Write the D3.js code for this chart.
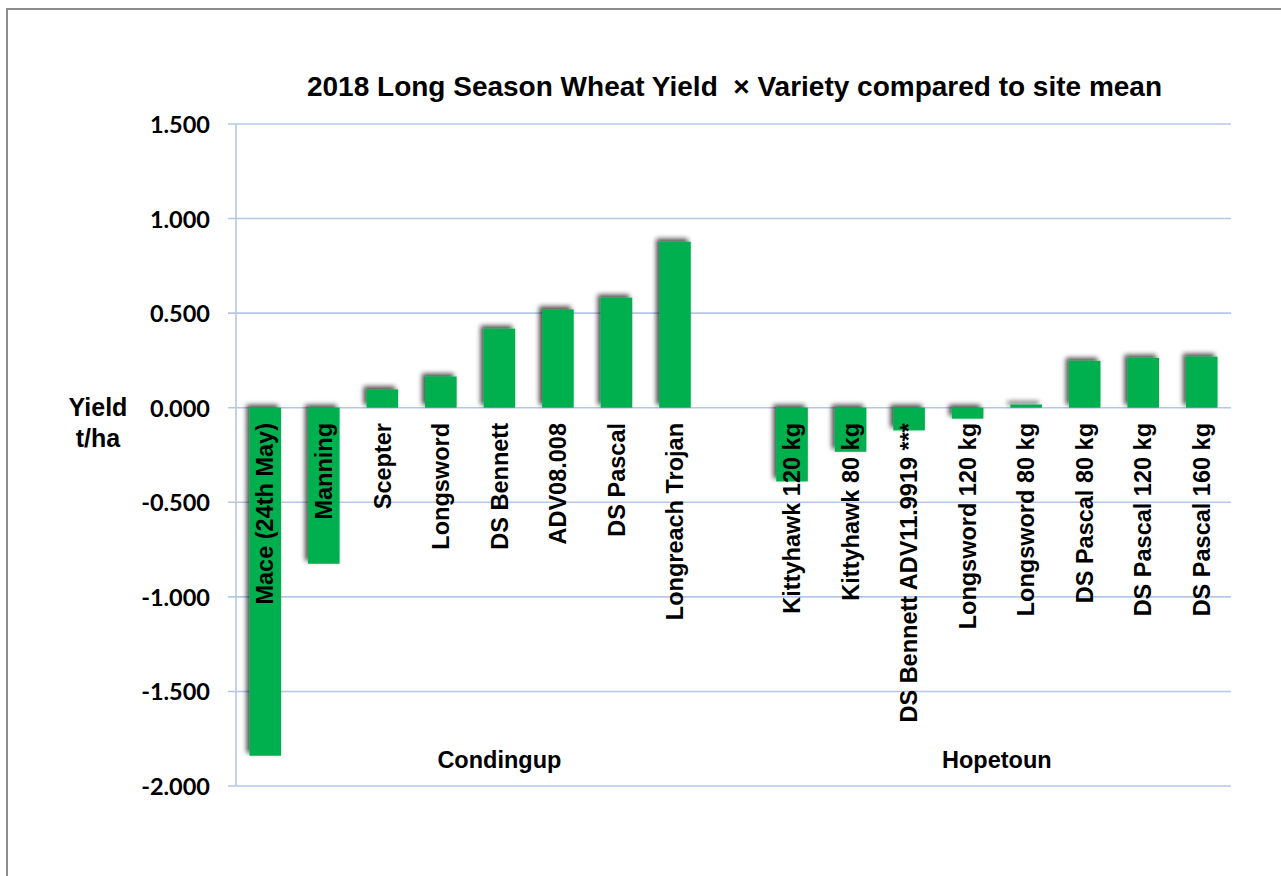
<!DOCTYPE html>
<html>
<head>
<meta charset="utf-8">
<script src="https://cdn.jsdelivr.net/npm/d3@7"></script>
<style>
  html, body { margin: 0; padding: 0; background: #fff; }
  svg { display: block; }
</style>
</head>
<body>
<svg id="chart" width="1281" height="876"></svg>
<script>
// ---- Data ----
const groups = ["Condingup", "Hopetoun"];
const categories = [
  "Mace (24th May)", "Manning", "Scepter", "Longsword", "DS Bennett", "ADV08.008", "DS Pascal", "Longreach Trojan", "",
  "Kittyhawk 120 kg", "Kittyhawk 80 kg", "DS Bennett ADV11.9919 ***", "Longsword 120 kg", "Longsword 80 kg",
  "DS Pascal 80 kg", "DS Pascal 120 kg", "DS Pascal 160 kg"
];
const categoryGroup = [0,0,0,0,0,0,0,0,0, 1,1,1,1,1,1,1,1];
const values = [
  -1.84, -0.825, 0.097, 0.165, 0.418, 0.52, 0.582, 0.878, null,
  -0.39, -0.233, -0.12, -0.058, 0.017, 0.248, 0.264, 0.27
];
const yTicks = [1.5, 1.0, 0.5, 0.0, -0.5, -1.0, -1.5, -2.0];
const title = "2018 Long Season Wheat Yield  \u00d7 Variety compared to site mean";
const yTitle = ["Yield", "t/ha"];

// ---- Layout ----
const svg = d3.select("#chart");
const plot = { left: 236, right: 1231, top: 124, bottom: 786 };

svg.append("rect").attr("x", 7).attr("y", 9).attr("width", 1300).attr("height", 900)
  .attr("fill", "#fff").attr("stroke", "#8c8c8c").attr("stroke-width", 2);

const defs = svg.append("defs");
const f = defs.append("filter").attr("id", "shadow").attr("x", "-50%").attr("y", "-50%").attr("width", "200%").attr("height", "200%");
f.append("feGaussianBlur").attr("in", "SourceAlpha").attr("stdDeviation", 2.5).attr("result", "b");
f.append("feOffset").attr("in", "b").attr("dx", -3).attr("dy", -3).attr("result", "o");
f.append("feComponentTransfer").attr("in", "o").attr("result", "s")
  .append("feFuncA").attr("type", "linear").attr("slope", 0.7);
const m = f.append("feMerge");
m.append("feMergeNode").attr("in", "s");
m.append("feMergeNode").attr("in", "SourceGraphic");

const x = d3.scaleBand().domain(d3.range(categories.length)).range([plot.left, plot.right]).paddingInner(0.46).paddingOuter(0.23);
const y = d3.scaleLinear().domain([-2, 1.5]).range([plot.bottom, plot.top]);

// gridlines
const gridColor = "#b4c7e7";
svg.append("g").selectAll("line").data(yTicks).join("line")
  .attr("x1", plot.left - 8).attr("x2", plot.right)
  .attr("y1", d => y(d)).attr("y2", d => y(d))
  .attr("stroke", gridColor).attr("stroke-width", 1.6);

// vertical axis line
svg.append("line").attr("x1", plot.left).attr("x2", plot.left)
  .attr("y1", plot.top).attr("y2", plot.bottom)
  .attr("stroke", gridColor).attr("stroke-width", 1.6);

// y tick labels via axis
const fmt = d3.format(".3f");
const yAxis = d3.axisLeft(y).tickValues(yTicks).tickFormat(d => fmt(d).replace("\u2212", "-")).tickSize(0).tickPadding(0);
const ya = svg.append("g").attr("transform", `translate(210,0)`).call(yAxis);
ya.select(".domain").remove();
ya.selectAll("text").attr("font-family", "Lato, 'Open Sans', sans-serif").attr("font-weight", "bold")
  .attr("font-size", "23.5px").attr("fill", "#000").attr("dy", "0.36em");

// bars
svg.append("g").attr("filter", "url(#shadow)").selectAll("rect")
  .data(values.map((v, i) => ({ v, i })).filter(d => d.v !== null)).join("rect")
  .attr("x", d => x(d.i)).attr("width", x.bandwidth())
  .attr("y", d => y(Math.max(0, d.v))).attr("height", d => Math.abs(y(d.v) - y(0)))
  .attr("fill", "#00b050");

// category labels (rotated)
svg.append("g").selectAll("text").data(categories.map((c, i) => ({ c, i })).filter(d => d.c)).join("text")
  .attr("transform", d => `translate(${x(d.i) + x.bandwidth() / 2},423) rotate(-90)`)
  .attr("text-anchor", "end").attr("dy", "0.35em")
  .attr("font-family", "'Liberation Sans', Arial, sans-serif").attr("font-weight", "bold")
  .attr("font-size", "23.5px").attr("fill", "#000")
  .text(d => d.c);

// group labels
const step = x.step();
svg.append("g").selectAll("text").data(groups).join("text")
  .attr("x", (g, gi) => {
    const idx = categoryGroup.map((v, i) => v === gi ? i : -1).filter(i => i >= 0);
    const start = plot.left + idx[0] * step;
    const end = plot.left + (idx[idx.length - 1] + 1) * step;
    return (start + end) / 2;
  })
  .attr("y", 768).attr("text-anchor", "middle")
  .attr("font-family", "'Liberation Sans', Arial, sans-serif").attr("font-weight", "bold")
  .attr("font-size", "23.5px").attr("fill", "#000")
  .text(d => d);

// title
svg.append("text").attr("x", 734.5).attr("y", 96).attr("text-anchor", "middle")
  .attr("font-family", "'Liberation Sans', Arial, sans-serif").attr("font-weight", "bold")
  .attr("font-size", "28px").attr("fill", "#000").attr("xml:space", "preserve")
  .style("white-space", "pre")
  .text(title);

// y axis title
svg.append("g").selectAll("text").data(yTitle).join("text")
  .attr("x", 98).attr("y", (d, i) => 416 + i * 31).attr("text-anchor", "middle")
  .attr("font-family", "'Liberation Sans', Arial, sans-serif").attr("font-weight", "bold")
  .attr("font-size", "25px").attr("fill", "#000")
  .text(d => d);
</script>
</body>
</html>
